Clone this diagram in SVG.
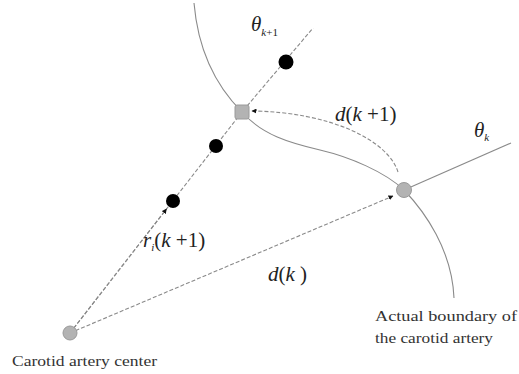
<svg xmlns="http://www.w3.org/2000/svg" width="519" height="374" viewBox="0 0 519 374">
<style>
.ln{fill:none;stroke:#8a8a8a;stroke-width:1.1}
.dash{stroke-dasharray:4 2}
.gray{fill:#b3b3b3;stroke:#9a9a9a;stroke-width:1}
.blk{fill:#000}
.m{font-size:21px;fill:#222}
.i{font-style:italic}
.lab{font-size:14px;fill:#333}
</style>
<defs>
<marker id="ah" viewBox="0 0 10 10" refX="9" refY="5" markerWidth="5" markerHeight="5" orient="auto" markerUnits="userSpaceOnUse">
<path d="M0,0 L10,5 L0,10 z" fill="#111"/>
</marker>
</defs>
<rect width="519" height="374" fill="#fff"/>
<g id="connectors">
<path id="boundary" class="ln" d="M194,3 C198,50 215,85 242,112 C262,135 290,143 320,150 S385,172 404,190 C425,212 452,250 454,298"/>
<polyline id="ray-k1" class="ln dash" points="70,333 242,112 313,28"/>
<line id="ray-k" class="ln" x1="404" y1="190" x2="511" y2="143"/>
<line id="arrow-dk" class="ln dash" x1="70" y1="333" x2="393" y2="196" marker-end="url(#ah)"/>
<line id="arrow-ri" class="ln dash" x1="70" y1="333" x2="166.5" y2="209" marker-end="url(#ah)"/>
<path id="arrow-dk1" class="ln dash" d="M398,172 C388,140 330,112 252,111" marker-end="url(#ah)"/>
</g>
<g id="center"><circle class="gray" cx="70" cy="333" r="7"/></g>
<g id="square-k1"><rect class="gray" x="235" y="105" width="14" height="14" rx="2"/></g>
<g id="circle-k"><circle class="gray" cx="404" cy="190" r="7.5"/></g>
<g id="dot1"><circle class="blk" cx="173" cy="201" r="7"/></g>
<g id="dot2"><circle class="blk" cx="216" cy="146" r="7"/></g>
<g id="dot3"><circle class="blk" cx="286" cy="62" r="7.5"/></g>
<g id="labels" font-family="Liberation Serif, Times New Roman, serif">
<text class="m" x="251" y="31"><tspan class="i">θ</tspan><tspan class="i" font-size="11" dy="5">k</tspan><tspan font-size="11">+1</tspan></text>
<text class="m" x="474" y="137"><tspan class="i">θ</tspan><tspan class="i" font-size="11" dy="4">k</tspan></text>
<text class="m" x="335" y="121"><tspan class="i">d</tspan>(<tspan class="i">k</tspan> +1)</text>
<text class="m" x="143" y="247"><tspan class="i">r</tspan><tspan class="i" font-size="11" dy="4">i</tspan><tspan dy="-4">(</tspan><tspan class="i">k</tspan> +1)</text>
<text class="m" x="268" y="281"><tspan class="i">d</tspan>(<tspan class="i">k</tspan> )</text>
<text class="lab" x="12" y="366" textLength="145" lengthAdjust="spacingAndGlyphs">Carotid artery center</text>
<text class="lab" x="375" y="321" textLength="142" lengthAdjust="spacingAndGlyphs">Actual boundary of</text>
<text class="lab" x="375" y="343" textLength="118" lengthAdjust="spacingAndGlyphs">the carotid artery</text>
</g>
</svg>
